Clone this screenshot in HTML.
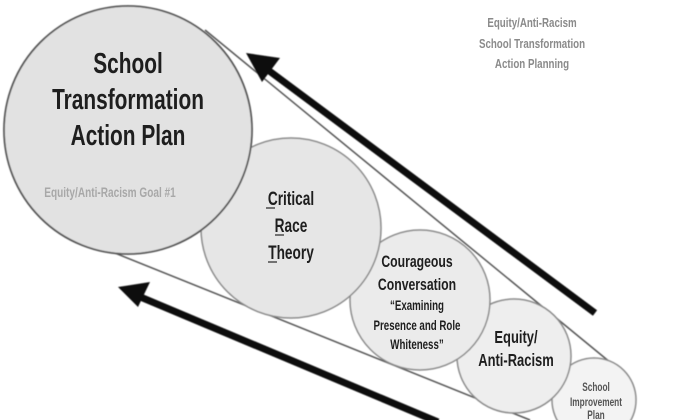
<!DOCTYPE html>
<html><head><meta charset="utf-8"><style>
html,body{margin:0;padding:0;background:#fff;width:700px;height:420px;overflow:hidden}
svg{display:block}
text{font-family:"Liberation Sans",sans-serif;font-weight:bold;text-anchor:middle;fill:#1e1e1e}
</style></head><body>
<svg width="700" height="420" viewBox="0 0 700 420" xmlns="http://www.w3.org/2000/svg">
<defs><filter id="b"><feGaussianBlur stdDeviation="0.5"/></filter></defs>
<g filter="url(#b)">
<line x1="205" y1="30" x2="622" y2="372" stroke="#555" stroke-width="1.5"/>
<line x1="95" y1="245" x2="530" y2="420" stroke="#555" stroke-width="1.5"/>
<circle cx="594" cy="400" r="42" fill="#f3f3f3" stroke="#888" stroke-width="1.5"/>
<circle cx="514" cy="356" r="57" fill="#eeeeee" stroke="#888" stroke-width="1.5"/>
<circle cx="420" cy="300" r="70" fill="#ebebeb" stroke="#888" stroke-width="1.5"/>
<circle cx="291" cy="228" r="90" fill="#e6e6e6" stroke="#888" stroke-width="1.5"/>
<circle cx="128" cy="130" r="124" fill="#e2e2e2" stroke="#555" stroke-width="1.8"/>
<line x1="595" y1="313" x2="268" y2="70" stroke="#111" stroke-width="7"/>
<polygon points="246,53 280,58 262,82" fill="#111"/>
<line x1="438" y1="422" x2="138" y2="296" stroke="#111" stroke-width="7"/>
<polygon points="118,287 150,282 138,307" fill="#111"/>
</g>
<g transform="translate(532,0) scale(0.75,1)">
<text x="0" y="27" font-size="13" style="fill:#8a8a8a">Equity/Anti-Racism</text>
<text x="0" y="48" font-size="13" style="fill:#8a8a8a">School Transformation</text>
<text x="0" y="68" font-size="13" style="fill:#8a8a8a">Action Planning</text>
</g>
<g transform="translate(128,0) scale(0.72,1)">
<text x="0" y="73" font-size="29">School</text>
<text x="0" y="109" font-size="29">Transformation</text>
<text x="0" y="145" font-size="29">Action Plan</text>
</g>
<g transform="translate(110,0) scale(0.72,1)">
<text x="0" y="197" font-size="14" style="fill:#a8a8a8">Equity/Anti-Racism Goal #1</text>
</g>
<g transform="translate(291,0) scale(0.72,1)">
<text x="0" y="205" font-size="19">Critical</text>
<text x="0" y="232" font-size="19">Race</text>
<text x="0" y="259" font-size="19">Theory</text>
</g>
<line x1="266" y1="208" x2="275" y2="208" stroke="#333" stroke-width="1.3"/>
<line x1="275" y1="235" x2="284" y2="235" stroke="#333" stroke-width="1.3"/>
<line x1="268" y1="262" x2="277" y2="262" stroke="#333" stroke-width="1.3"/>
<g transform="translate(417,0) scale(0.72,1)">
<text x="0" y="267" font-size="17">Courageous</text>
<text x="0" y="290" font-size="17">Conversation</text>
<text x="0" y="310" font-size="13.5">“Examining</text>
<text x="0" y="330" font-size="13.5">Presence and Role</text>
<text x="0" y="349" font-size="13.5">Whiteness”</text>
</g>
<g transform="translate(516,0) scale(0.72,1)">
<text x="0" y="343" font-size="18">Equity/</text>
<text x="0" y="366" font-size="18">Anti-Racism</text>
</g>
<g transform="translate(596,0) scale(0.72,1)">
<text x="0" y="391" font-size="11.5" style="fill:#555">School</text>
<text x="0" y="406" font-size="11.5" style="fill:#555">Improvement</text>
<text x="0" y="419" font-size="11.5" style="fill:#555">Plan</text>
</g>
</svg>
</body></html>
